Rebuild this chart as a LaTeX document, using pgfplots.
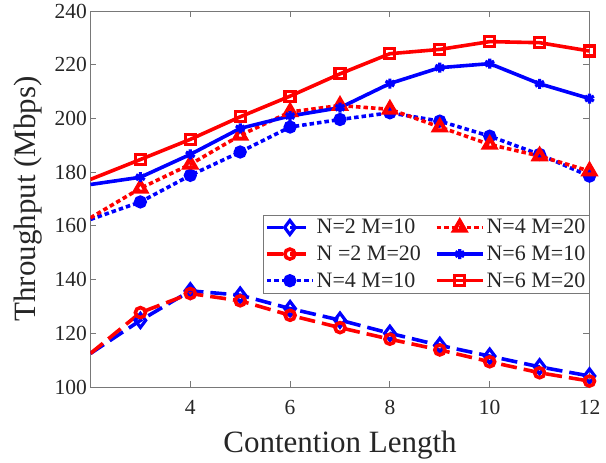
\documentclass[border=0pt]{standalone}
\usepackage{fontspec}
\setmainfont{Liberation Serif}
\usepackage{pgfplots}
\pgfplotsset{compat=1.18}

\definecolor{axgray}{RGB}{120,120,120}
\definecolor{txtgray}{RGB}{38,38,38}

\pgfplotsset{
  mlline/.style={line width=3.6pt, mark phase=2, mark options={solid, line width=3.2pt}},
  mldash/.style={dash pattern=on 16pt off 7pt},
  mldot/.style={dash pattern=on 4.5pt off 3pt},
}

\begin{document}
\begin{tikzpicture}
\begin{axis}[
    scale only axis,
    width=499pt, height=376pt,
    xmin=2, xmax=12, ymin=100, ymax=240,
    xtick={4,6,8,10,12},
    ytick={100,120,...,240},
    tick align=inside,
    major tick length=6pt,
    axis line style={axgray, line width=0.8pt},
    every tick/.style={axgray, line width=0.8pt},
    /pgf/number format/assume math mode=true,
    tick label style={font=\fontsize{21.5}{26}\selectfont, text=txtgray},
    xticklabel style={yshift=-10pt},
    xlabel={Contention Length},
    ylabel={Throughput (Mbps)},
    label style={font=\fontsize{31}{34}\selectfont, text=txtgray},
    xlabel style={at={(axis description cs:0.5,0)}, anchor=base, yshift=-65pt},
    ylabel style={at={(axis description cs:0,0.5)}, anchor=center, yshift=62pt},
    legend columns=3,
    transpose legend,
    legend cell align=left,
    legend style={at={(1,0.457)}, anchor=north east, draw=axgray, fill=white,
      font=\fontsize{22}{24}\selectfont, text=txtgray, inner sep=2pt, row sep=6.5pt,
      /tikz/every even column/.append style={column sep=12pt}},
    legend image code/.code={
      \draw[mark repeat=2, mark phase=2] plot coordinates {(0pt,0pt) (23pt,0pt) (46pt,0pt)};
    },
]

\addplot[blue, mlline, mldash, mark=diamond, mark size=7pt] coordinates {
(2,112.5) (3,124.8) (4,135.8) (5,134.2) (6,129.2) (7,124.9)
(8,120.0) (9,115.5) (10,111.5) (11,107.5) (12,104.1)
};
\addlegendentry{N=2 M=10}

\addplot[red, mlline, mldash, mark=o, mark size=5pt, mark options={solid, line width=3.6pt}] coordinates {
(2,112.5) (3,127.7) (4,134.8) (5,132.1) (6,126.7) (7,122.1)
(8,117.8) (9,113.8) (10,109.4) (11,105.3) (12,102.2)
};
\addlegendentry{N =2 M=20}

\addplot[blue, mlline, mldot, mark=*, mark size=5pt] coordinates {
(2,162.4) (3,168.9) (4,178.8) (5,187.5) (6,196.8) (7,199.6)
(8,202.1) (9,199.0) (10,193.4) (11,186.6) (12,178.5)
};
\addlegendentry{N=4 M=10}

\addplot[red, mlline, mldot, mark=triangle, mark size=6.5pt, mark options={solid, line width=4pt}] coordinates {
(2,163.0) (3,174.0) (4,182.9) (5,193.7) (6,202.4) (7,204.8)
(8,203.4) (9,196.8) (10,190.3) (11,186.0) (12,180.4)
};
\addlegendentry{N=4 M=20}

\addplot[blue, mlline, mark=asterisk, mark size=5pt] coordinates {
(2,175.4) (3,178.1) (4,186.6) (5,196.3) (6,200.9) (7,204.0)
(8,213.0) (9,218.9) (10,220.4) (11,212.9) (12,207.4)
};
\addlegendentry{N=6 M=10}

\addplot[red, mlline, mark=square, mark size=5pt] coordinates {
(2,177.3) (3,184.7) (4,192.2) (5,200.6) (6,208.3) (7,216.6)
(8,224.1) (9,225.7) (10,228.6) (11,228.2) (12,225.1)
};
\addlegendentry{N=6 M=20}

\end{axis}
\path (-90.5pt,-72pt) rectangle (515.5pt,387pt);
\end{tikzpicture}
\end{document}
